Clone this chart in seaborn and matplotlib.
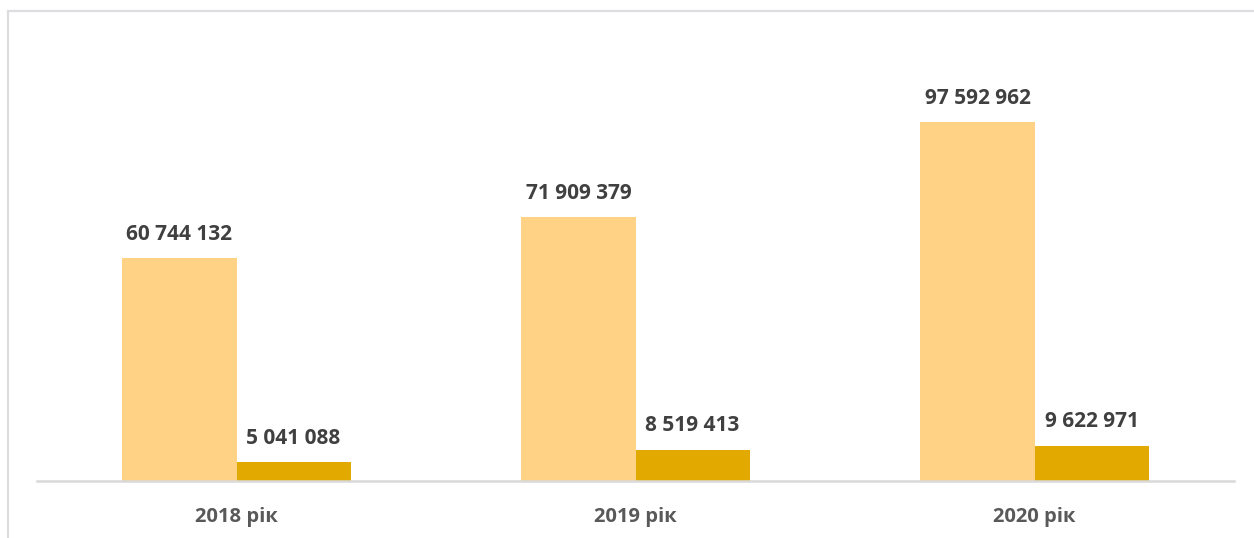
import matplotlib
matplotlib.use("Agg")
import matplotlib.pyplot as plt
import seaborn as sns
import pandas as pd
from matplotlib.patches import Rectangle

# Data
years = ["2018 рік", "2019 рік", "2020 рік"]
series_names = ["Всього", "У тому числі"]
total_values = [60744132, 71909379, 97592962]
part_values = [5041088, 8519413, 9622971]

bar_colors = ["#FFD285", "#E2AA00"]
label_color = "#404040"
tick_color = "#595959"

df = pd.DataFrame({
    "year": years * 2,
    "series": [series_names[0]] * 3 + [series_names[1]] * 3,
    "value": total_values + part_values,
})

sns.set_theme(style="white")
plt.rcParams["font.family"] = ["Open Sans", "DejaVu Sans"]

W, H = 1254, 538
fig = plt.figure(figsize=(W / 100, H / 100), dpi=100)
fig.patch.set_facecolor("white")

# Frame of the chart card
fig.add_artist(Rectangle((7.5 / W, -0.05), 1.1, (H - 10.5) / H + 0.05,
                         transform=fig.transFigure, fill=False,
                         edgecolor="#DCDDE0", linewidth=1.6))

ax = fig.add_axes([37 / W, (H - 481) / H, (1234 - 37) / W, (481 - 40) / H])
sns.barplot(data=df, x="year", y="value", hue="series", order=years,
            hue_order=series_names, palette=bar_colors, width=0.572,
            saturation=1, linewidth=0, ax=ax, legend=False)

ax.set_ylim(0, 120e6)
ax.set_xlim(-0.5, 2.5)
ax.set_xlabel("")
ax.set_ylabel("")
ax.set_yticks([])
for side in ["top", "right", "left"]:
    ax.spines[side].set_visible(False)
ax.spines["bottom"].set_color("#D9D9D9")
ax.spines["bottom"].set_linewidth(1.8)
ax.tick_params(axis="x", length=0, pad=19, labelsize=14.5, labelcolor=tick_color)
for t in ax.get_xticklabels():
    t.set_fontweight("bold")

def fmt(v):
    return f"{v:,}".replace(",", " ")

for cont in ax.containers:
    for bar in cont:
        h = bar.get_height()
        ax.annotate(fmt(int(round(h))),
                    (bar.get_x() + bar.get_width() / 2, h),
                    xytext=(0, 9.5), textcoords="offset points",
                    ha="center", va="bottom", fontsize=15,
                    fontweight="bold", color=label_color)

fig.savefig("out.png", dpi=100, facecolor="white")
